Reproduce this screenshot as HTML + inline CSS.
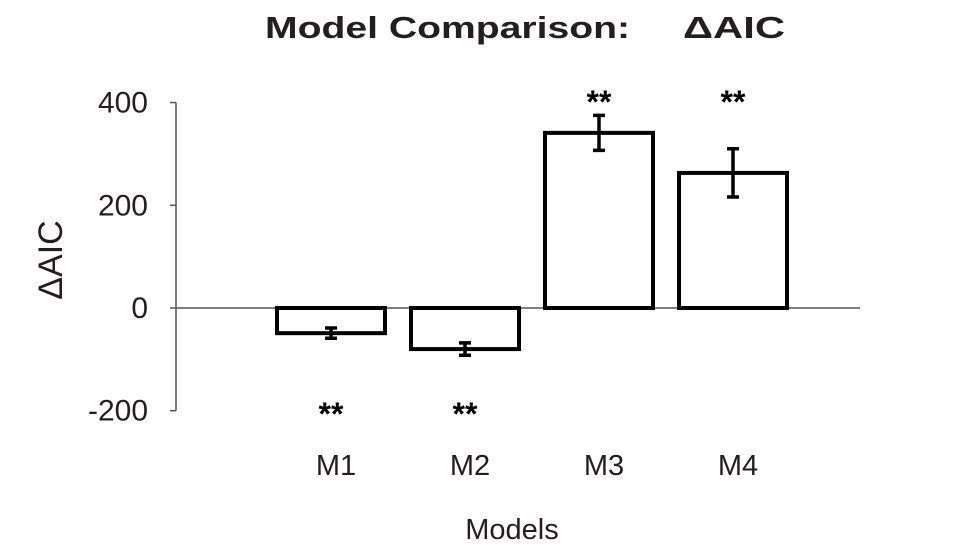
<!DOCTYPE html>
<html><head><meta charset="utf-8"><style>
html,body{margin:0;padding:0;background:#fff;}
svg{display:block;font-family:"Liberation Sans",Arial,sans-serif;}
</style></head><body>
<svg id="chart" width="966" height="552">
<text x="265" y="38" font-size="31" font-weight="bold" fill="#231f20" textLength="365" lengthAdjust="spacingAndGlyphs">Model Comparison:</text>
<text x="683" y="38" font-size="31" font-weight="bold" fill="#231f20" textLength="102" lengthAdjust="spacingAndGlyphs">ΔAIC</text>
<text transform="translate(62,260) rotate(-90)" text-anchor="middle" font-size="34" fill="#231f20">ΔAIC</text>
<text x="512" y="539" text-anchor="middle" font-size="29" fill="#231f20">Models</text>
<g id="axes"></g><g id="bars"></g>
</svg>
<script>
const categories=["M1","M2","M3","M4"];
const values=[-49,-80,341,263];
const errors=[10,12,34,47];
const stars=["**","**","**","**"];
const ticks=[400,200,0,-200];
const ns="http://www.w3.org/2000/svg";
const y0=308, pxPer=0.5136;
function yS(v){return y0-v*pxPer;}
const xStart=277, pitch=134, bw=108;
function xS(i){return xStart+i*pitch;}
function mk(t,a,p){const e=document.createElementNS(ns,t);for(const k in a)e.setAttribute(k,a[k]);p.appendChild(e);return e;}
const axes=document.getElementById('axes'), bars=document.getElementById('bars');
const ax=mk('line',{x1:176,x2:176,y1:yS(400),y2:yS(-200),stroke:'#555','stroke-width':1.5},axes);


const zl=mk('line',{x1:176,x2:860,y1:y0,y2:y0,stroke:'#555','stroke-width':1.5},axes);


ticks.forEach(t=>{
 const tk=mk('line',{x1:170,x2:176,y1:yS(t),y2:yS(t),stroke:'#555','stroke-width':1.5},axes);
 
 
 const tl=mk('text',{x:148,y:yS(t)+10,'text-anchor':'end','font-size':30,fill:'#231f20'},axes);
 tl.textContent=t;
 
 
});
categories.forEach((c,i)=>{
 const v=values[i], x=xS(i), cx=x+bw/2;
 const top=Math.min(yS(v),y0), h=Math.abs(yS(v)-y0);
 const r=mk('rect',{x:x,y:top,width:bw,height:h,fill:'#fff',stroke:'#000','stroke-width':4},bars);
 
 
 const e1=yS(v+errors[i]), e2=yS(v-errors[i]);
 const eb=mk('path',{d:`M${cx},${e1}V${e2}M${cx-6},${e1}H${cx+6}M${cx-6},${e2}H${cx+6}`,stroke:'#000','stroke-width':3.5,fill:'none'},bars);
 
 
 const sy = v>=0 ? 113 : 425;
 const s=mk('text',{x:cx,y:sy,'text-anchor':'middle','font-size':32,'font-weight':'bold',fill:'#000'},bars);
 s.textContent=stars[i];
 
 
 const l=mk('text',{x:cx+5,y:475,'text-anchor':'middle','font-size':29,fill:'#231f20'},bars);
 l.textContent=c;
 
 
});
</script>
</body></html>
